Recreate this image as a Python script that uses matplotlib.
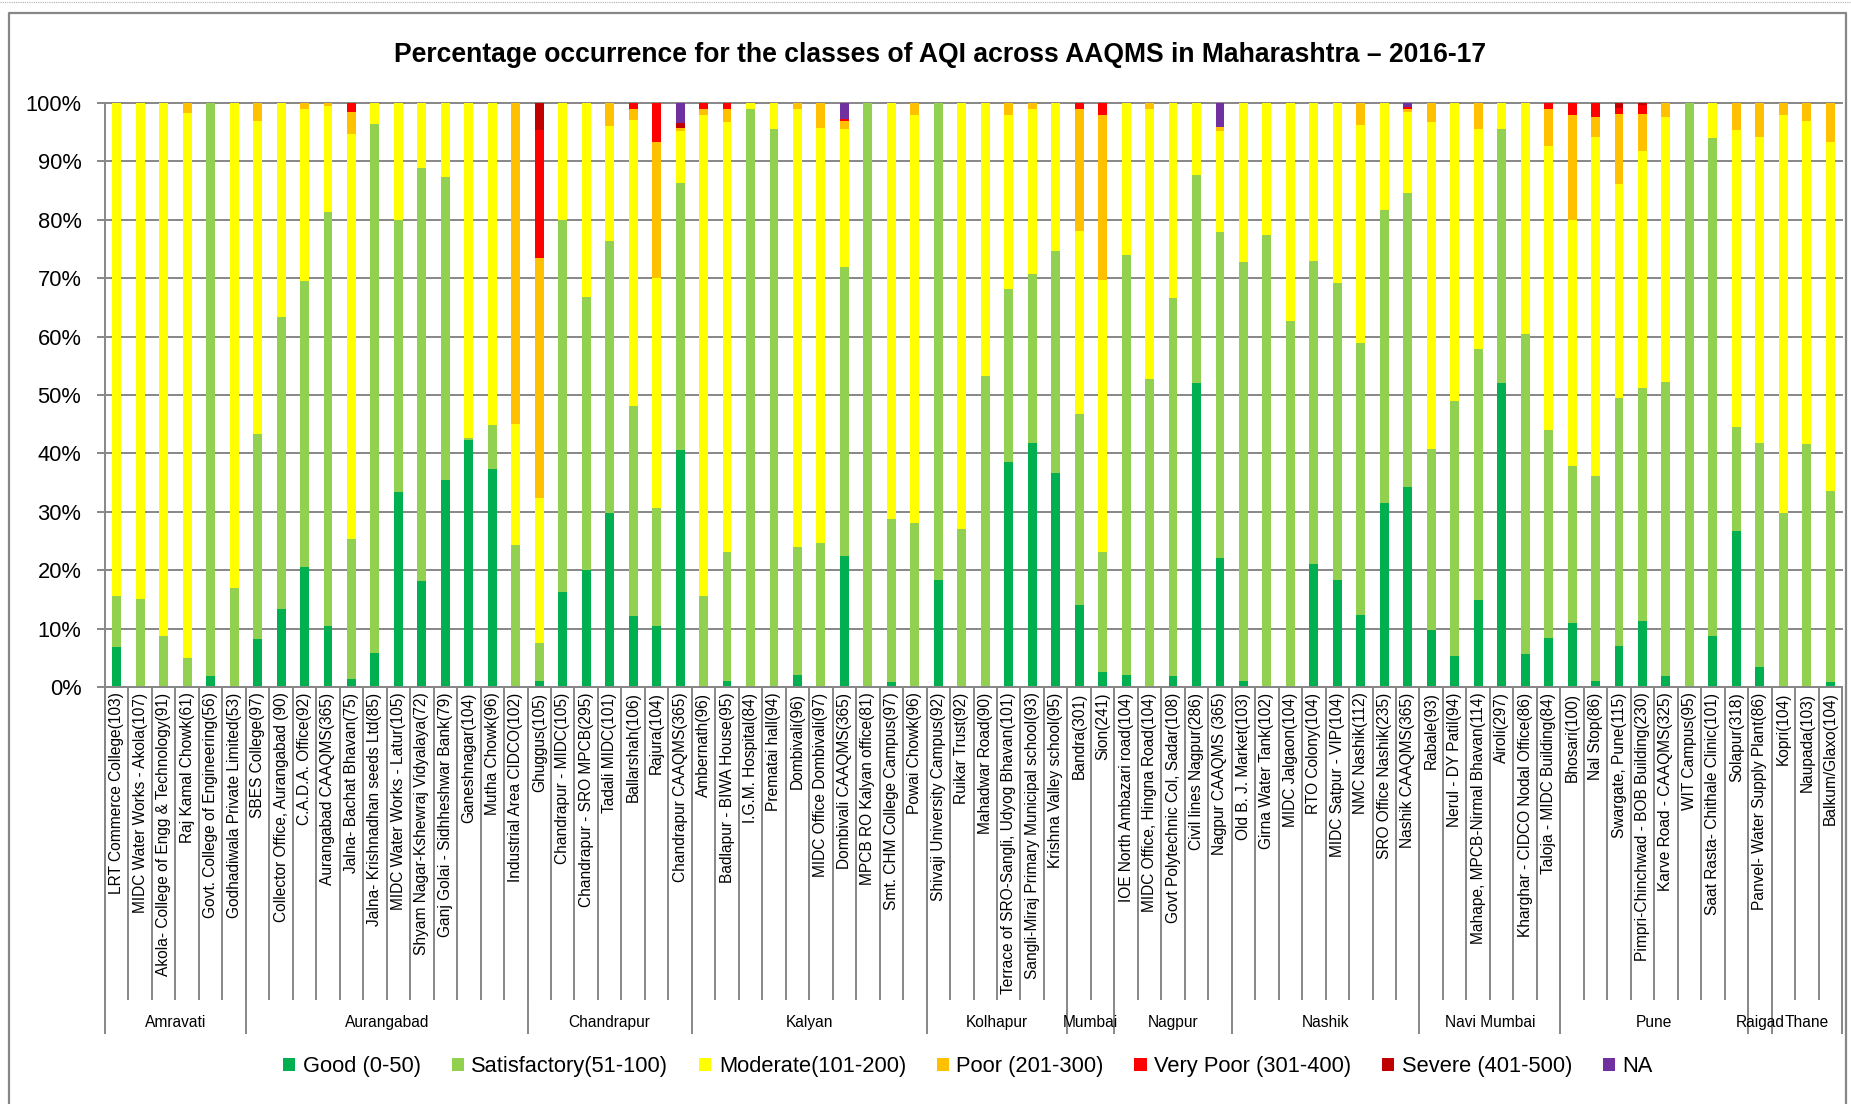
import numpy as np
import matplotlib
matplotlib.use("Agg")
import matplotlib.pyplot as plt
from matplotlib import font_manager
from matplotlib.lines import Line2D
from matplotlib.patches import Patch

# pick a narrow face if there is one, the reference text is condensed
names = {f.name for f in font_manager.fontManager.ttflist}
if "Liberation Sans Narrow" in names:
    FONT, k = "Liberation Sans Narrow", 1.0
else:
    FONT, k = "Liberation Sans", 0.83
plt.rcParams["font.family"] = [FONT, "DejaVu Sans"]

stations = [
    "LRT Commerce College(103)", "MIDC Water Works - Akola(107)",
    "Akola- College of Engg & Technology(91)", "Raj Kamal Chowk(61)",
    "Govt. College of Engineering(56)", "Godhadiwala Private Limited(53)",
    "SBES College(97)", "Collector Office, Aurangabad (90)", "C.A.D.A. Office(92)",
    "Aurangabad CAAQMS(365)", "Jalna- Bachat Bhavan(75)", "Jalna- Krishnadhan seeds Ltd(85)",
    "MIDC Water Works - Latur(105)", "Shyam Nagar-Kshewraj Vidyalaya(72)",
    "Ganj Golai - Sidhheshwar Bank(79)", "Ganeshnagar(104)", "Mutha Chowk(96)",
    "Industrial Area CIDCO(102)",
    "Ghuggus(105)", "Chandrapur - MIDC(105)", "Chandrapur - SRO MPCB(295)",
    "Tadali MIDC(101)", "Ballarshah(106)", "Rajura(104)", "Chandrapur CAAQMS(365)",
    "Ambernath(96)", "Badlapur - BIWA House(95)", "I.G.M. Hospital(84)",
    "Prematai hall(94)", "Dombivali(96)", "MIDC Office Dombivali(97)",
    "Dombivali CAAQMS(365)", "MPCB RO Kalyan office(81)", "Smt. CHM College Campus(97)",
    "Powai Chowk(96)",
    "Shivaji University Campus(92)", "Ruikar Trust(92)", "Mahadwar Road(90)",
    "Terrace of SRO-Sangli, Udyog Bhavan(101)", "Sangli-Miraj Primary Municipal school(93)",
    "Krishna Valley school(95)",
    "Bandra(301)", "Sion(241)",
    "IOE North Ambazari road(104)", "MIDC Office, Hingna Road(104)",
    "Govt Polytechnic Col, Sadar(108)", "Civil lines Nagpur(286)", "Nagpur CAAQMS (365)",
    "Old B. J. Market(103)", "Girna Water Tank(102)", "MIDC Jalgaon(104)", "RTO Colony(104)",
    "MIDC Satpur - VIP(104)", "NMC Nashik(112)", "SRO Office Nashik(235)",
    "Nashik CAAQMS(365)",
    "Rabale(93)", "Nerul - DY Patil(94)", "Mahape, MPCB-Nirmal Bhavan(114)", "Airoli(297)",
    "Kharghar - CIDCO Nodal Office(86)", "Taloja - MIDC Building(84)",
    "Bhosari(100)", "Nal Stop(86)", "Swargate, Pune(115)", "Pimpri-Chinchwad - BOB Building(230)",
    "Karve Road - CAAQMS(325)", "WIT Campus(95)", "Saat Rasta- Chithale Clinic(101)",
    "Solapur(318)",
    "Panvel- Water Supply Plant(86)",
    "Kopri(104)", "Naupada(103)", "Balkum/Glaxo(104)",
]

regions = ["Amravati", "Aurangabad", "Chandrapur", "Kalyan", "Kolhapur", "Mumbai",
           "Nagpur", "Nashik", "Navi Mumbai", "Pune", "Raigad", "Thane"]
region_counts = [6, 12, 7, 10, 6, 2, 5, 8, 6, 8, 1, 3]

# percent of days in each AQI class
good = [6.9, 0, 0, 0, 1.8, 0, 8.2, 13.4, 20.6, 10.5, 1.4, 5.9, 33.4, 18.1, 35.5, 42.3, 37.4, 0,
        1.0, 16.3, 20.0, 29.8, 12.2, 10.5, 40.5,
        0, 1.0, 0, 0, 2.1, 0, 22.4, 0, 0.9, 0,
        18.4, 0, 0, 38.5, 41.8, 36.7,
        14.0, 2.5,
        2.0, 0, 1.8, 52.1, 22.1,
        1.0, 0, 0, 21.1, 18.3, 12.4, 31.5, 34.2,
        9.8, 5.3, 14.9, 52.1, 5.7, 8.4,
        10.9, 1.1, 7.0, 11.3, 1.8, 0, 8.8, 26.7,
        3.4,
        0, 0, 0.9]
satisfactory = [8.7, 15.0, 8.8, 5.0, 98.2, 17.0, 35.1, 49.9, 49.0, 70.8, 23.9, 90.5, 46.5, 70.8,
                51.8, 0.3, 7.4, 24.4,
                6.6, 63.6, 46.8, 46.5, 35.9, 20.2, 45.8,
                15.6, 22.1, 98.9, 95.6, 21.8, 24.7, 49.5, 100, 27.9, 28.1,
                81.6, 27.1, 53.3, 29.7, 29.0, 38.0,
                32.8, 20.7,
                72.0, 52.7, 64.8, 35.5, 55.8,
                71.7, 77.4, 62.6, 51.9, 50.9, 46.5, 50.2, 50.4,
                31.0, 43.6, 43.0, 43.4, 54.8, 35.6,
                27.0, 35.0, 42.5, 39.9, 50.4, 100, 85.2, 17.9,
                38.4,
                29.8, 41.6, 32.7]
moderate = [84.4, 85.0, 91.2, 93.3, 0, 83.0, 53.6, 36.7, 29.3, 18.2, 69.4, 3.6, 20.1, 11.1,
            12.7, 57.4, 55.2, 20.7,
            24.8, 20.1, 33.2, 19.7, 49.0, 39.4, 8.9,
            82.3, 73.7, 1.1, 4.4, 75.0, 71.1, 23.6, 0, 71.2, 69.8,
            0, 72.9, 46.7, 29.7, 28.1, 25.3,
            31.3, 46.5,
            26.0, 46.2, 33.4, 12.4, 17.3,
            27.3, 22.6, 37.4, 27.0, 30.8, 37.4, 18.3, 13.9,
            56.0, 51.1, 37.6, 4.5, 39.5, 48.7,
            42.0, 58.0, 36.6, 40.6, 45.4, 0, 6.0, 50.7,
            52.3,
            68.2, 55.4, 59.7]
poor = [0, 0, 0, 1.7, 0, 0, 3.1, 0, 1.1, 0.5, 3.8, 0, 0, 0, 0, 0, 0, 54.9,
        41.0, 0, 0, 4.0, 1.9, 23.2, 0.5,
        1.0, 2.1, 0, 0, 1.1, 4.2, 1.5, 0, 0, 2.1,
        0, 0, 0, 2.1, 1.1, 0,
        20.8, 28.2,
        0, 1.1, 0, 0, 0.7,
        0, 0, 0, 0, 0, 3.7, 0, 0.5,
        3.2, 0, 4.5, 0, 0, 6.2,
        18.0, 3.5, 12.1, 6.4, 2.4, 0, 0, 4.7,
        5.9,
        2.0, 3.0, 6.7]
very_poor = [0, 0, 0, 0, 0, 0, 0, 0, 0, 0, 1.5, 0, 0, 0, 0, 0, 0, 0,
             21.9, 0, 0, 0, 1.0, 6.7, 0,
             1.1, 1.1, 0, 0, 0, 0, 0.3, 0, 0, 0,
             0, 0, 0, 0, 0, 0,
             1.1, 2.1,
             0, 0, 0, 0, 0,
             0, 0, 0, 0, 0, 0, 0, 0.3,
             0, 0, 0, 0, 0, 1.1,
             2.1, 2.4, 1.0, 1.4, 0, 0, 0, 0,
             0,
             0, 0, 0]
severe = [0] * 74
severe[18] = 4.7
severe[24] = 0.8
severe[64] = 0.8
severe[65] = 0.4
na = [0] * 74
na[24] = 3.5
na[31] = 2.7
na[47] = 4.1
na[55] = 0.7

classes = ["Good (0-50)", "Satisfactory(51-100)", "Moderate(101-200)", "Poor (201-300)",
           "Very Poor (301-400)", "Severe (401-500)", "NA"]
colors = ["#00B050", "#92D050", "#FFFF00", "#FFC000", "#FF0000", "#C00000", "#7030A0"]
series = [good, satisfactory, moderate, poor, very_poor, severe, na]

W, H = 1851, 1104
fig = plt.figure(figsize=(W / 100, H / 100), dpi=100)
ax = fig.add_axes([105 / W, 417 / H, 1737 / W, 584 / H])

x = np.arange(len(stations))
bottom = np.zeros(len(stations))
for vals, col in zip(series, colors):
    vals = np.array(vals, dtype=float)
    ax.bar(x, vals, 0.38, bottom=bottom, color=col, linewidth=0, zorder=2)
    bottom += vals

grey = "#878787"
ax.set_xlim(-0.5, len(stations) - 0.5)
ax.set_ylim(0, 100)
ax.set_yticks(range(0, 101, 10))
ax.set_yticklabels([f"{v}%" for v in range(0, 101, 10)], fontsize=19 * k)
ax.yaxis.grid(True, color=grey, lw=1.4, clip_on=False)
ax.set_axisbelow(True)
for s in ["top", "right"]:
    ax.spines[s].set_visible(False)
for s in ["left", "bottom"]:
    ax.spines[s].set_color(grey)
    ax.spines[s].set_linewidth(1.4)
ax.tick_params(axis="y", length=6, width=1.4, color=grey, pad=11)

ax.set_xticks(x)
ax.set_xticklabels(stations, rotation=90, fontsize=13.5 * k, va="top", ha="center")
ax.tick_params(axis="x", length=0, pad=4)

# separators below the axis
xt = ax.get_xaxis_transform()
edges = np.arange(len(stations) + 1) - 0.5
ax.vlines(edges, -0.536, 0, transform=xt, colors=grey, lw=1.4, clip_on=False)
bounds = np.concatenate([[0], np.cumsum(region_counts)])
ax.vlines(bounds - 0.5, -0.594, 0, transform=xt, colors=grey, lw=1.4, clip_on=False)
for name, a, b in zip(regions, bounds[:-1], bounds[1:]):
    ax.text((a + b - 1) / 2, -0.575, name, transform=xt, ha="center", va="center",
            fontsize=13.5 * k)

fig.text(0.508, 0.950,
         "Percentage occurrence for the classes of AQI across AAQMS in Maharashtra \u2013 2016-17",
         ha="center", va="center", fontsize=23 * k, fontweight="bold")

handles = [Patch(facecolor=c, edgecolor="none", label=l) for c, l in zip(colors, classes)]
fig.legend(handles=handles, loc="center", bbox_to_anchor=(0.523, 0.034), ncol=7,
           frameon=False, fontsize=19 * k, handlelength=0.55, handleheight=0.55,
           handletextpad=0.35, columnspacing=1.4)

# chart frame
fig.add_artist(Line2D([0, 1], [1 - 2 / H] * 2, transform=fig.transFigure,
                      color="#b0b0b0", lw=0.8, ls=(0, (1, 1))))
fx0, fx1, fy = 9 / W, 1846 / W, 1 - 13 / H
fig.add_artist(Line2D([fx0, fx0, fx1, fx1], [0, fy, fy, 0], transform=fig.transFigure,
                      color=grey, lw=1.6))

fig.savefig("out.png", dpi=100)
